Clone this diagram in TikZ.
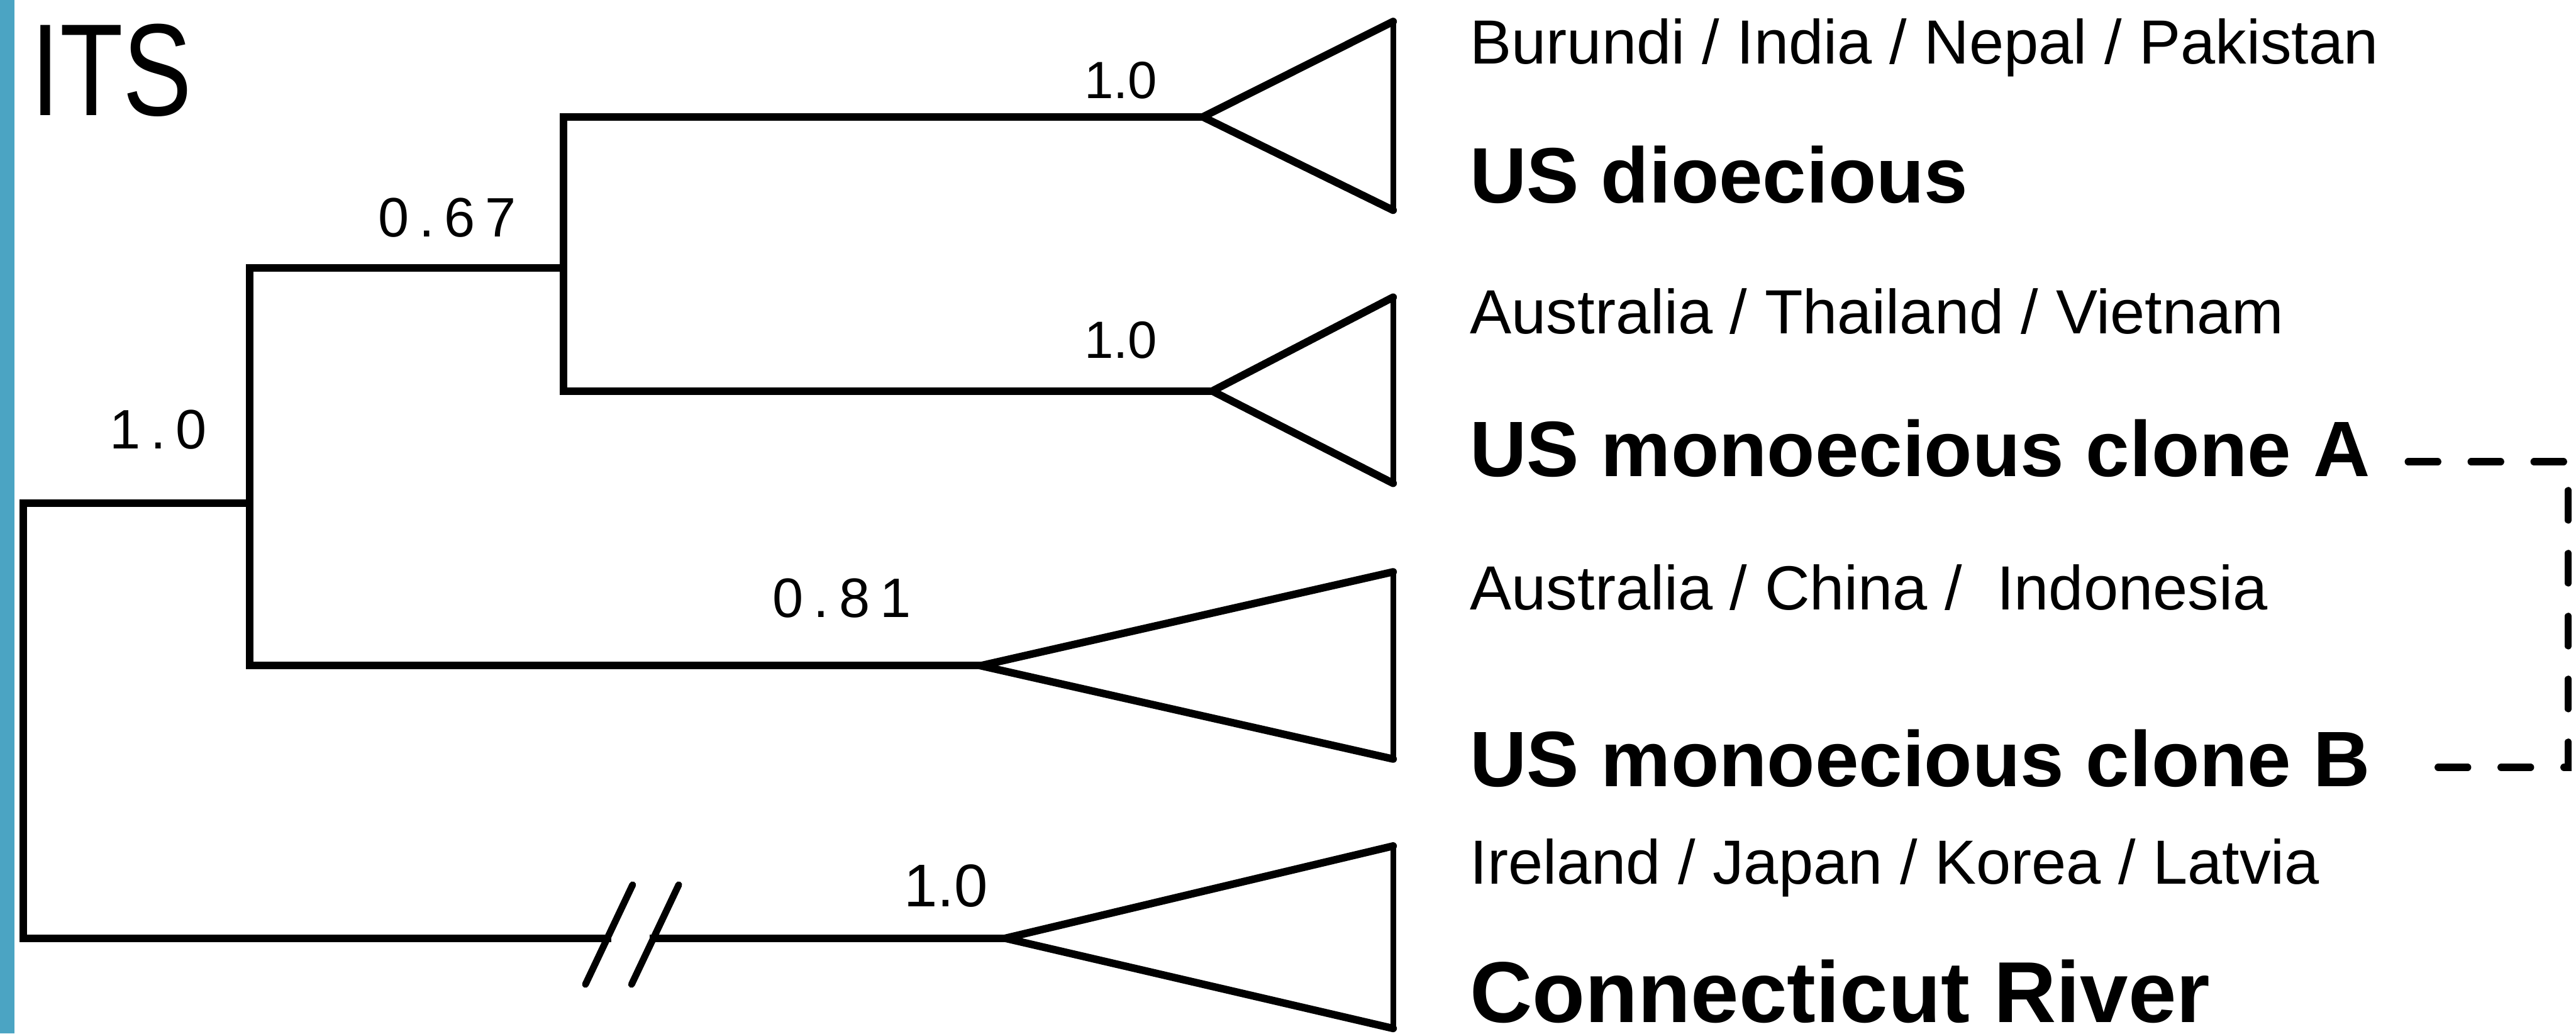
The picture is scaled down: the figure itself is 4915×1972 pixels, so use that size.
\documentclass[tikz,border=0pt]{standalone}
\usepackage{fontspec}
\setmainfont{Liberation Sans}
\definecolor{barblue}{RGB}{75,164,195}
\newcommand\tsp{\kern0.18em}
\begin{document}
\begin{tikzpicture}[x=0.1pt,y=-0.1pt,
  treeline/.style={line width=1.45pt, line cap=rect, line join=miter},
  cladeside/.style={line width=1.45pt, line join=miter, line cap=round},
  cladeback/.style={line width=1.05pt, line cap=round},
  taxon/.style={anchor=base west, inner sep=0pt, font=\fontsize{11.9pt}{13pt}\selectfont},
  group/.style={anchor=base west, inner sep=0pt, font=\fontsize{15pt}{17pt}\selectfont\bfseries},
  support/.style={anchor=base east, inner sep=0pt, font=\fontsize{10pt}{12pt}\selectfont},
  spaced/.style={support, font=\fontsize{10.6pt}{12pt}\selectfont},
  link/.style={line width=1.4pt, dash pattern=on 5.6pt off 6.4pt, line cap=round},
  breakmark/.style={line width=1.3pt, line cap=round}
]
\useasboundingbox (0,0) rectangle (4915,1972);
\fill[barblue] (0,0) rectangle (28,1972);
\node[anchor=base west, inner sep=0pt, font=\fontsize{25pt}{29pt}\selectfont, xscale=0.79] (its) at (58,220) {ITS};

% tree points
\coordinate (rt) at (44,960);
\coordinate (rb) at (44,1790);
\coordinate (aj) at (476,960);
\coordinate (at) at (476,511);
\coordinate (ab) at (476,1270);
\coordinate (bj) at (1075,511);
\coordinate (bt) at (1075,223);
\coordinate (bb) at (1075,746);
\coordinate (t1) at (2295,223);
\coordinate (t2) at (2313,746);
\coordinate (t3) at (1871,1270);
\coordinate (t4) at (1918,1790);
\coordinate (s1) at (1159,1790);
\coordinate (s2) at (1247,1790);

\draw[treeline] (aj) -- (rt) -- (rb) -- (s1);
\draw[treeline] (s2) -- (t4);
\draw[treeline] (bj) -- (at) -- (ab) -- (t3);
\draw[treeline] (t1) -- (bt) -- (bb) -- (t2);

% break marks
\draw[breakmark] (1117,1878) -- (1207,1688);
\draw[breakmark] (1205,1878) -- (1295,1688);

% collapsed clades
\coordinate (k1a) at (2658,41);   \coordinate (k1b) at (2658,401);
\coordinate (k2a) at (2658,567);  \coordinate (k2b) at (2658,922);
\coordinate (k3a) at (2658,1091); \coordinate (k3b) at (2658,1448);
\coordinate (k4a) at (2658,1614); \coordinate (k4b) at (2658,1962);
\draw[cladeside] (k1a) -- (t1) -- (k1b); \draw[cladeback] (k1a) -- (k1b);
\draw[cladeside] (k2a) -- (t2) -- (k2b); \draw[cladeback] (k2a) -- (k2b);
\draw[cladeside] (k3a) -- (t3) -- (k3b); \draw[cladeback] (k3a) -- (k3b);
\draw[cladeside] (k4a) -- (t4) -- (k4b); \draw[cladeback] (k4a) -- (k4b);

% taxa
\node[taxon] (c1) at (2803,122) {Burundi / India / Nepal / Pakistan};
\node[group] (g1) at (2803,387) {US dioecious};
\node[taxon] (c2) at (2803,636) {Australia / Thailand / Vietnam};
\node[group] (g2) at (2803,909) {US monoecious clone A};
\node[taxon] (c3) at (2803,1163) {Australia / China /\ \ Indonesia};
\node[group] (g3) at (2803,1501) {US monoecious clone B};
\node[taxon] (c4) at (2803,1686) {Ireland / Japan / Korea / Latvia};
\node[group, font=\fontsize{16.5pt}{19pt}\selectfont\bfseries] (g4) at (2803,1950) {Connecticut River};

% support values
\node[support] (l1) at (2210,188) {1.0};
\node[support] (l2) at (2210,683) {1.0};
\node[spaced] (l3) at (987,452) {0\tsp.\tsp6\tsp7};
\node[spaced] (l4) at (397,856) {1\tsp.\tsp0};
\node[spaced] (l5) at (1740,1178) {0\tsp.\tsp8\tsp1};
\node[support, font=\fontsize{11.5pt}{13pt}\selectfont] (l6) at (1887,1730) {1.0};

% dashed link between clone A and clone B
\coordinate (dA) at (4595,881);
\coordinate (dB) at (4614,1464);
\coordinate (dc1) at (4900,881);
\coordinate (dc2) at (4900,1464);
\draw[link] (dA) -- (dc1) -- (dc2) -- (dB);
\end{tikzpicture}
\end{document}
